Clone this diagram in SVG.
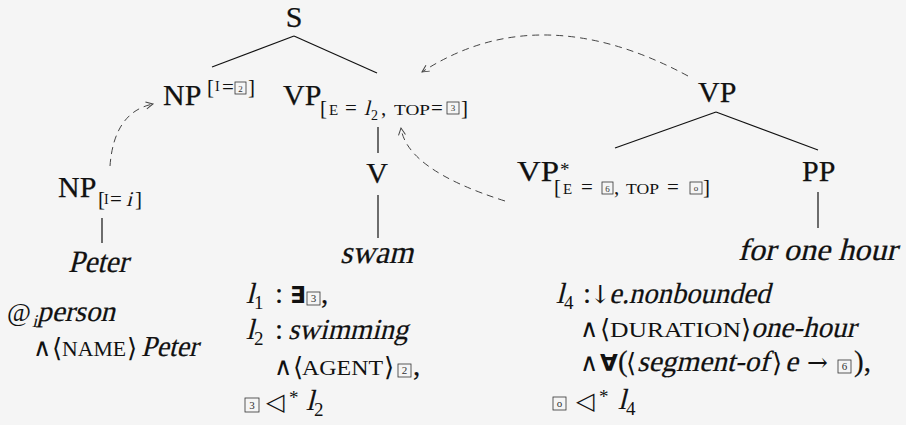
<svg xmlns="http://www.w3.org/2000/svg" width="906" height="425" viewBox="0 0 906 425">
<style>
text{font-family:"Liberation Serif","DejaVu Serif",serif;fill:#111}
.lab{font-size:30px;stroke:#111;stroke-width:0.25}
.br{font-size:21px}
.sc{font-size:15px}
.sem{font-size:29px;stroke:#111;stroke-width:0.2}
.sub{font-size:19px}
.scs{font-size:20px}
.op{font-family:"DejaVu Serif",serif;font-size:25px}
.arr{font-family:"DejaVu Serif",serif;font-size:25px}
.ang{font-family:"DejaVu Serif",serif;font-size:26px}
.bold{font-family:"DejaVu Sans",sans-serif;font-weight:bold;font-size:23px}
.box{fill:none;stroke:#333;stroke-width:0.8}
.bn{font-size:9px;text-anchor:middle;fill:#333}
.bn2{font-size:11px;text-anchor:middle;fill:#333}
.edge{stroke:#111;stroke-width:1.2;fill:none}
.dash{stroke:#444;stroke-width:1;fill:none;stroke-dasharray:7 5;marker-end:url(#ah)}
</style>
<defs>
<marker id="ah" markerWidth="10" markerHeight="10" refX="8" refY="4" orient="auto" markerUnits="userSpaceOnUse">
<path d="M1,0.5 L8,4 L1,7.5" fill="none" stroke="#444" stroke-width="1"/>
</marker>
</defs>
<rect width="906" height="425" fill="#f5f5f5"/>

<g id="connectors">
<line class="edge" x1="294" y1="36" x2="212" y2="67"/>
<line class="edge" x1="294" y1="36" x2="377" y2="73"/>
<line class="edge" x1="378" y1="127" x2="378" y2="153"/>
<line class="edge" x1="378" y1="195" x2="378" y2="238"/>
<line class="edge" x1="102" y1="218" x2="102" y2="243"/>
<line class="edge" x1="716" y1="112" x2="615" y2="148"/>
<line class="edge" x1="716" y1="112" x2="818" y2="150"/>
<line class="edge" x1="818" y1="192" x2="818" y2="228"/>
<path class="dash" d="M110,166 Q114,112 153,104"/>
<path class="dash" d="M688,76 Q539,-4 422,72"/>
<path class="dash" d="M505,201 Q407,170 401,128"/>
</g>

<g id="node-S">
<text class="lab" x="294" y="27" text-anchor="middle">S</text>
</g>

<g id="node-NP-top">
<text class="lab" x="163" y="105">NP</text>
<text class="br" x="207" y="94">[</text>
<text x="215" y="91" style="font-size:14px">I</text>
<text class="br" x="222" y="94">=</text>
<rect class="box" x="235" y="82" width="11" height="12"/>
<text class="bn" x="240.5" y="91.5">2</text>
<text class="br" x="248" y="94">]</text>
</g>

<g id="node-VP-top">
<text class="lab" x="283" y="105">VP</text>
<text class="br" x="320" y="115">[</text>
<text class="sc" x="329" y="115">E</text>
<text class="br" x="345" y="115">=</text>
<text class="br" transform="translate(364,115) skewX(-14)">l</text>
<text x="371" y="120" style="font-size:14px">2</text>
<text class="br" x="381" y="115">,</text>
<text class="sc" x="394" y="115" textLength="36" lengthAdjust="spacingAndGlyphs">TOP</text>
<text class="br" x="431" y="115">=</text>
<rect class="box" x="447" y="102" width="12" height="12"/>
<text class="bn" x="453" y="111">3</text>
<text class="br" x="461" y="115">]</text>
</g>

<g id="node-NP-low">
<text class="lab" x="58" y="197">NP</text>
<text class="br" x="98" y="206">[</text>
<text x="104" y="204" style="font-size:14px">I</text>
<text class="br" x="110" y="206">=</text>
<text class="br" transform="translate(126,206) skewX(-14)">i</text>
<text class="br" x="135" y="206">]</text>
</g>

<g id="node-V">
<text class="lab" x="377" y="183" text-anchor="middle">V</text>
</g>

<g id="node-swam">
<text class="lab" transform="translate(340,263) skewX(-14)" style="font-size:32px" textLength="73" lengthAdjust="spacingAndGlyphs">swam</text>
</g>

<g id="node-Peter">
<text class="lab" transform="translate(68,272) skewX(-14)" style="font-size:31px" textLength="60" lengthAdjust="spacingAndGlyphs">Peter</text>
</g>

<g id="node-VP-right">
<text class="lab" x="698" y="102">VP</text>
</g>

<g id="node-VP-star">
<text class="lab" x="517" y="181" textLength="42" lengthAdjust="spacingAndGlyphs">VP</text>
<text x="560" y="176" style="font-size:19px">*</text>
<text class="br" x="554" y="194">[</text>
<text class="sc" x="563" y="194">E</text>
<text class="br" x="581" y="194">=</text>
<rect class="box" x="602" y="182" width="11" height="12"/>
<text class="bn" x="607.5" y="191.5">6</text>
<text class="br" x="614" y="194">,</text>
<text class="sc" x="626" y="194" textLength="33" lengthAdjust="spacingAndGlyphs">TOP</text>
<text class="br" x="667" y="194">=</text>
<rect class="box" x="690" y="182" width="12" height="12"/>
<text class="bn" x="696" y="191">o</text>
<text class="br" x="703" y="194">]</text>
</g>

<g id="node-PP">
<text class="lab" x="802" y="181">PP</text>
</g>

<g id="node-for-one-hour">
<text class="lab" transform="translate(738,260) skewX(-14)" style="font-size:31px" textLength="159" lengthAdjust="spacingAndGlyphs">for one hour</text>
</g>

<g id="sem-peter">
<text x="7" y="321" style="font-size:26px">@</text>
<text transform="translate(32,327) skewX(-14)" style="font-size:18px">i</text>
<text class="sem" transform="translate(37,321) skewX(-14)" textLength="78" lengthAdjust="spacingAndGlyphs">person</text>
<text class="op" x="33" y="356">∧</text>
<text class="ang" x="52" y="357">⟨</text>
<text class="scs" x="62" y="356" textLength="64" lengthAdjust="spacingAndGlyphs">NAME</text>
<text class="ang" x="127" y="357">⟩</text>
<text class="sem" transform="translate(141,356) skewX(-14)" textLength="57" lengthAdjust="spacingAndGlyphs">Peter</text>
</g>

<g id="sem-swam">
<text class="sem" transform="translate(246,303) skewX(-14)">l</text>
<text class="sub" x="254" y="309">1</text>
<text class="sem" x="275" y="303">:</text>
<text class="bold" x="290" y="303">∃</text>
<rect class="box" x="307" y="292" width="13" height="13"/>
<text class="bn2" x="313.5" y="302">3</text>
<text class="sem" x="321" y="303">,</text>

<text class="sem" transform="translate(246,339) skewX(-14)">l</text>
<text class="sub" x="254" y="345">2</text>
<text class="sem" x="275" y="339">:</text>
<text class="sem" transform="translate(288,339) skewX(-14)" textLength="120" lengthAdjust="spacingAndGlyphs">swimming</text>

<text class="op" x="274" y="375">∧</text>
<text class="ang" x="293" y="376">⟨</text>
<text class="scs" x="302" y="375" textLength="81" lengthAdjust="spacingAndGlyphs">AGENT</text>
<text class="ang" x="384" y="376">⟩</text>
<rect class="box" x="398" y="364" width="13" height="13"/>
<text class="bn2" x="404.5" y="374">2</text>
<text class="sem" x="413" y="375">,</text>

<rect class="box" x="245" y="398" width="14" height="14"/>
<text class="bn2" x="252" y="409">3</text>
<text x="266" y="410" style="font-family:'DejaVu Sans',sans-serif;font-size:24px">◁</text>
<text x="289" y="404" style="font-size:19px">*</text>
<text class="sem" transform="translate(306,410) skewX(-14)">l</text>
<text class="sub" x="314" y="416">2</text>
</g>

<g id="sem-hour">
<text class="sem" transform="translate(556,303) skewX(-14)">l</text>
<text class="sub" x="564" y="309">4</text>
<text class="sem" x="583" y="303">:</text>
<text class="arr" x="590" y="303">↓</text>
<text class="sem" transform="translate(609,303) skewX(-14)" textLength="161" lengthAdjust="spacingAndGlyphs">e.nonbounded</text>

<text class="op" x="580" y="337">∧</text>
<text class="ang" x="600" y="338">⟨</text>
<text class="scs" x="610" y="337" textLength="131" lengthAdjust="spacingAndGlyphs">DURATION</text>
<text class="ang" x="741" y="338">⟩</text>
<text class="sem" transform="translate(751,337) skewX(-14)" textLength="105" lengthAdjust="spacingAndGlyphs">one-hour</text>

<text class="op" x="580" y="371">∧</text>
<text class="bold" x="600" y="371">∀</text>
<text class="sem" x="618" y="371">(</text>
<text class="ang" x="626" y="372">⟨</text>
<text class="sem" transform="translate(637,371) skewX(-14)" textLength="132" lengthAdjust="spacingAndGlyphs">segment-of</text>
<text class="ang" x="772" y="372">⟩</text>
<text class="sem" transform="translate(785,371) skewX(-14)">e</text>
<text class="arr" x="807" y="371">→</text>
<rect class="box" x="838" y="360" width="13" height="13"/>
<text class="bn2" x="844.5" y="370">6</text>
<text class="sem" x="854" y="371">),</text>

<rect class="box" x="553" y="397" width="13" height="13"/>
<text class="bn2" x="559.5" y="407">o</text>
<text x="576" y="409" style="font-family:'DejaVu Sans',sans-serif;font-size:24px">◁</text>
<text x="599" y="403" style="font-size:19px">*</text>
<text class="sem" transform="translate(618,409) skewX(-14)">l</text>
<text class="sub" x="626" y="415">4</text>
</g>
</svg>
